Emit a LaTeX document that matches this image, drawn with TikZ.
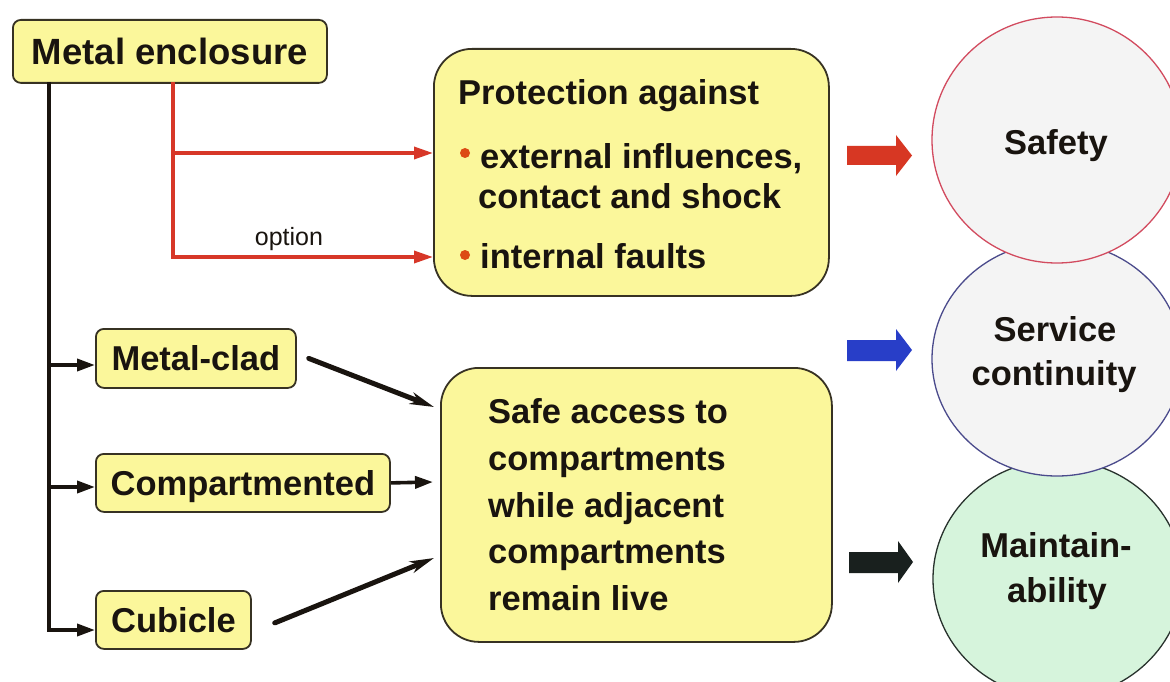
\documentclass[tikz,border=0pt]{standalone}
\usepackage{fontspec}
\setmainfont{Liberation Sans}
\usetikzlibrary{arrows.meta,shapes.geometric}
\definecolor{boxfill}{RGB}{251,247,155}
\definecolor{boxline}{RGB}{55,50,35}
\definecolor{txt}{RGB}{25,20,15}
\definecolor{redline}{RGB}{215,55,40}
\definecolor{redblock}{RGB}{215,55,35}
\definecolor{blueblock}{RGB}{40,62,200}
\definecolor{blackblock}{RGB}{25,32,30}
\definecolor{bulletc}{RGB}{220,75,20}
\definecolor{safeline}{RGB}{210,75,95}
\definecolor{servline}{RGB}{75,75,140}
\definecolor{mainline}{RGB}{40,50,45}
\definecolor{ellfill}{RGB}{244,244,244}
\definecolor{greenfill}{RGB}{214,244,220}
\begin{document}
\begin{tikzpicture}[x=1pt,y=-1pt,
  smallbox/.style={draw=boxline, line width=1.8pt, fill=boxfill, rounded corners=8pt,
    inner sep=0pt, text=txt, font=\fontsize{34.5}{40}\selectfont\bfseries,
    text height=24.7pt, text depth=0pt, anchor=north west},
  bigbox/.style={draw=boxline, line width=1.8pt, fill=boxfill, rounded corners=38pt,
    inner sep=0pt, anchor=north west},
  lbl/.style={inner sep=0pt, text=txt, font=\fontsize{34.5}{40}\selectfont\bfseries},
  bul/.style={circle, fill=bulletc, inner sep=0pt, minimum size=10pt},
  ell/.style={ellipse, inner sep=0pt, minimum width=250pt, line width=1.3pt},
  redarrow/.style={draw=redline, line width=3.4pt},
  blkline/.style={draw=txt, line width=4.5pt},
  blkarrow/.style={draw=txt, line width=3.6pt, -{Triangle[length=18pt,width=12pt]}},
  diag/.style={draw=txt, line width=5pt, line cap=round, -{Stealth[length=24pt,width=12pt,inset=7pt]}}
]
\clip (0,0) rectangle (1170,682);
\fill[white] (0,0) rectangle (1170,682);

% ellipses (bottom to top)
\node[ell, draw=mainline, fill=greenfill, minimum height=238pt] (mnt) at (1058,579) {};
\node[ell, draw=servline, fill=ellfill, minimum height=234pt] (srv) at (1057,359) {};
\node[ell, draw=safeline, fill=ellfill, minimum height=246pt] (saf) at (1057,140) {};
\node[lbl, anchor=base] (tsaf) at (1056,154) {Safety};
\node[lbl, anchor=base] (tsrv1) at (1055,341) {Service};
\node[lbl, anchor=base] (tsrv2) at (1054,385) {continuity};
\node[lbl, anchor=base] (tmnt1) at (1056,557) {Maintain-};
\node[lbl, anchor=base] (tmnt2) at (1057,602) {ability};

% block arrows
\fill[redblock] (847,146) -- (896,146) -- (896,135) -- (912,155.5) -- (896,176) -- (896,165) -- (847,165) -- cycle;
\fill[blueblock] (847,340) -- (896,340) -- (896,329) -- (912,350) -- (896,371) -- (896,361) -- (847,361) -- cycle;
\fill[blackblock] (849,552) -- (898,552) -- (898,541) -- (913,562) -- (898,583) -- (898,573) -- (849,573) -- cycle;

% boxes
\node[smallbox, font=\fontsize{36.5}{42}\selectfont\bfseries, text height=26.1pt,
  minimum width=314pt, minimum height=63pt] (me) at (12,19) {Metal enclosure};
\node[smallbox, minimum width=200pt, minimum height=59pt] (mc) at (95,328) {Metal-clad};
\node[smallbox, minimum width=294pt, minimum height=58pt] (cmp) at (95,453) {Compartmented};
\node[smallbox, minimum width=155pt, minimum height=58pt] (cub) at (95,590) {Cubicle};

\node[bigbox, minimum width=395pt, minimum height=247pt] (prot) at (433,48) {};
\node[lbl, anchor=base west] (p1) at (458,105) {Protection against};
\node[bul] (b1) at (465,153) {};
\node[lbl, anchor=base west] (p2) at (480,168) {external influences,};
\node[lbl, anchor=base west] (p3) at (478,208) {contact and shock};
\node[bul] (b2) at (465,255) {};
\node[lbl, anchor=base west] (p4) at (480,268) {internal faults};

\node[bigbox, minimum width=391pt, minimum height=274pt] (safe) at (440,367) {};
\node[lbl, anchor=base west] (s1) at (488,423) {Safe access to};
\node[lbl, anchor=base west] (s2) at (488,470) {compartments};
\node[lbl, anchor=base west] (s3) at (488,517) {while adjacent};
\node[lbl, anchor=base west] (s4) at (488,563) {compartments};
\node[lbl, anchor=base west] (s5) at (488,610) {remain live};

% red connectors
\coordinate (rtop) at (173,82);
\coordinate (rmid) at (173,153);
\coordinate (rbot) at (173,257);
\draw[redarrow] (rtop) -- ([yshift=-1.7pt]rbot);
\draw[redarrow, -{Triangle[length=19pt,width=12pt]}] (rmid) -- (rmid -| prot.west);
\draw[redarrow, -{Triangle[length=19pt,width=12pt]}] (rbot) -- (rbot -| prot.west);
\node[inner sep=0pt, anchor=base, text=txt, font=\fontsize{25}{30}\selectfont] (opt) at (289,245) {option};

% black tree
\coordinate (btop) at (49,82);
\coordinate (k1) at (49,365);
\coordinate (k2) at (49,487);
\coordinate (k3) at (49,630);
\draw[blkline] (btop) -- ([yshift=-2.25pt]k3);
\draw[blkarrow] (k1) -- (k1 -| mc.west);
\draw[blkarrow] (k2) -- (k2 -| cmp.west);
\draw[blkarrow] (k3) -- (k3 -| cub.west);

% arrows to safe access box
\coordinate (sa1) at (434,407);
\coordinate (sa2) at (433,482);
\coordinate (sa3) at (434,558);
\draw[diag] ([xshift=12pt]mc.east) -- (sa1);
\draw[blkarrow] (cmp.east) -- (sa2);
\draw[diag] ([xshift=23pt,yshift=-3pt]cub.east) -- (sa3);
\end{tikzpicture}
\end{document}
